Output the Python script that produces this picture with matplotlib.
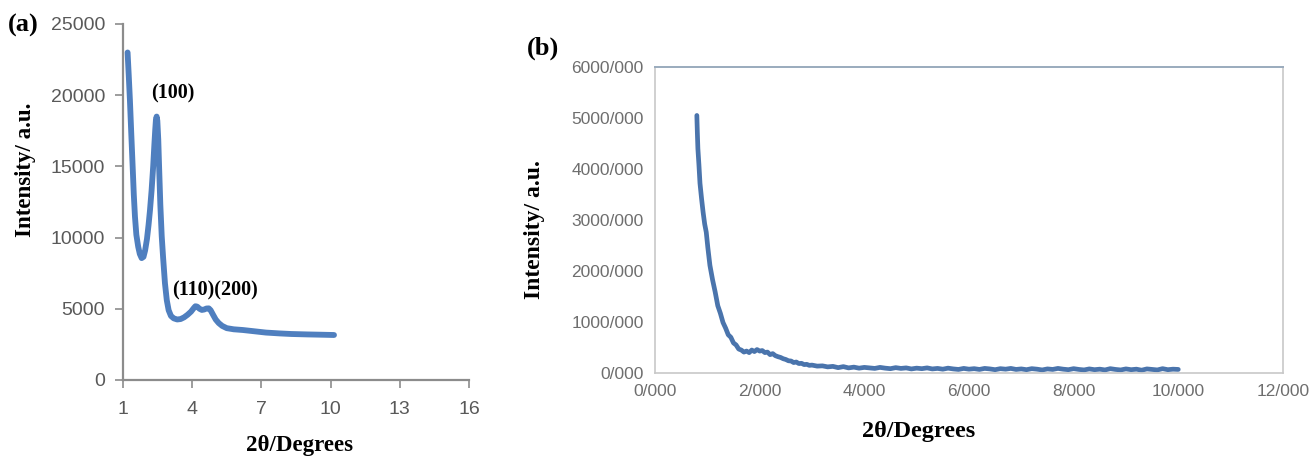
import matplotlib.pyplot as plt

# (a) low-angle XRD pattern, smooth trace
theta_a = [1.20, 1.25, 1.30, 1.36, 1.42, 1.47, 1.52, 1.58, 1.66, 1.73, 1.81, 1.89, 1.96,
           2.04, 2.11, 2.17, 2.24, 2.31, 2.36, 2.40, 2.43, 2.46, 2.49, 2.53, 2.57,
           2.62, 2.68, 2.74, 2.82, 2.90, 2.98, 3.08, 3.20, 3.35, 3.50, 3.65, 3.80,
           3.95, 4.07, 4.14, 4.22, 4.32, 4.42, 4.52, 4.62, 4.72, 4.80, 4.90, 5.02,
           5.15, 5.30, 5.50, 5.80, 6.20, 6.70, 7.20, 7.80, 8.30, 9.00, 9.60, 10.15]
inten_a = [23000, 21400, 19700, 17300, 14980, 13000, 11470, 10200, 9360, 8850, 8560,
           8650, 9100, 9900, 10900, 11900, 13300, 15000, 16500, 17600, 18300, 18500,
           18200, 16900, 14800, 12300, 10100, 8600, 6800, 5600, 4900, 4500, 4330,
           4250, 4280, 4400, 4580, 4800, 5050, 5180, 5150, 5000, 4920, 4950, 5020,
           5030, 4900, 4600, 4250, 4000, 3800, 3640, 3560, 3510, 3420, 3330, 3270,
           3230, 3200, 3180, 3160]

# (b) wide range pattern, noisy trace
theta_b = [0.80, 0.81, 0.82, 0.84, 0.86, 0.89, 0.92, 0.95, 0.98, 1.01, 1.05, 1.10,
           1.15, 1.20, 1.25, 1.30, 1.35, 1.40, 1.45, 1.50, 1.55, 1.60, 1.65, 1.70,
           1.75, 1.80, 1.85, 1.90, 1.95, 2.00, 2.05, 2.10, 2.15, 2.20, 2.25, 2.30,
           2.35, 2.40, 2.45, 2.50, 2.55, 2.60, 2.65, 2.70, 2.75, 2.80, 2.85, 2.90,
           2.95, 3.00, 3.10, 3.20, 3.30, 3.40, 3.50, 3.60, 3.70, 3.80, 3.90, 4.00,
           4.10, 4.20, 4.30, 4.40, 4.50, 4.60, 4.70, 4.80, 4.90, 5.00, 5.10, 5.20,
           5.30, 5.40, 5.50, 5.60, 5.70, 5.80, 5.90, 6.00, 6.10, 6.20, 6.30, 6.40,
           6.50, 6.60, 6.70, 6.80, 6.90, 7.00, 7.10, 7.20, 7.30, 7.40, 7.50, 7.60,
           7.70, 7.80, 7.90, 8.00, 8.10, 8.20, 8.30, 8.40, 8.50, 8.60, 8.70, 8.80,
           8.90, 9.00, 9.10, 9.20, 9.30, 9.40, 9.50, 9.60, 9.70, 9.80, 9.90, 10.00]
inten_b = [5050, 4700, 4400, 4080, 3720, 3420, 3150, 2920, 2760, 2460, 2110, 1830,
           1590, 1320, 1170, 990, 880, 750, 700, 590, 550, 470, 450, 410,
           430, 400, 450, 420, 460, 430, 440, 400, 410, 360, 380, 340,
           320, 305, 280, 265, 240, 235, 205, 215, 185, 190, 165, 170,
           150, 155, 135, 140, 120, 130, 105, 125, 100, 115, 95, 110,
           100, 90, 110, 95, 85, 105, 90, 100, 80, 95, 85, 100,
           80, 90, 75, 95, 80, 70, 90, 75, 85, 70, 90, 80,
           65, 85, 75, 90, 70, 80, 65, 85, 75, 60, 80, 70,
           90, 75, 65, 85, 70, 60, 80, 65, 75, 60, 85, 70,
           60, 80, 65, 75, 55, 80, 70, 60, 85, 65, 75, 70]

serif = "Liberation Serif"
tick_font = "Liberation Sans"

fig = plt.figure(figsize=(13.11, 4.57), dpi=100)

# ---- panel (a) ----
ax1 = fig.add_axes([0.0938, 0.1685, 0.2639, 0.779])
ax1.plot(theta_a, inten_a, color="#4f7fbf", linewidth=4.2, solid_capstyle="round",
         solid_joinstyle="round")
ax1.set_xlim(1, 16)
ax1.set_ylim(0, 25000)
ax1.set_xticks([1, 4, 7, 10, 13, 16])
ax1.set_yticks([0, 5000, 10000, 15000, 20000, 25000])
for side in ["top", "right"]:
    ax1.spines[side].set_visible(False)
for side in ["left", "bottom"]:
    ax1.spines[side].set_color("#8c8c8c")
    ax1.spines[side].set_linewidth(1.6)
ax1.tick_params(direction="out", length=6, width=1.2, color="#8c8c8c",
                labelcolor="#595959", labelsize=14, pad=7)
ax1.tick_params(axis="x", pad=9)
for lbl in ax1.get_xticklabels() + ax1.get_yticklabels():
    lbl.set_fontfamily(tick_font)
ax1.set_xlabel("2θ/Degrees", fontfamily=serif, fontweight="bold", fontsize=16.5,
               va="center")
ax1.xaxis.set_label_coords(0.51, -0.183)
ax1.set_ylabel("Intensity/ a.u.", fontfamily=serif, fontweight="bold", fontsize=16.5)
ax1.yaxis.set_label_coords(-0.25, 0.59)
ax1.text(3.15, 20100, "(100)", fontfamily=serif, fontweight="bold", fontsize=14.5,
         ha="center", va="center")
ax1.text(5.0, 6300, "(110)(200)", fontfamily=serif, fontweight="bold", fontsize=14.5,
         ha="center", va="center")
fig.text(0.006, 0.93, "(a)", fontfamily=serif, fontweight="bold", fontsize=19)

# ---- panel (b) ----
ax2 = fig.add_axes([0.4996, 0.1838, 0.479, 0.6696])
ax2.plot(theta_b, inten_b, color="#4a74ac", linewidth=3.4, solid_joinstyle="round",
         solid_capstyle="round")
ax2.set_xlim(0, 12)
ax2.set_ylim(0, 6000)
ax2.set_xticks(range(0, 13, 2))
ax2.set_yticks(range(0, 6001, 1000))
ax2.set_xticklabels([f"{v}/000" for v in range(0, 13, 2)])
ax2.set_yticklabels([f"{v}/000" for v in range(0, 6001, 1000)])
for side in ["left", "bottom", "right"]:
    ax2.spines[side].set_color("#c8c8c8")
    ax2.spines[side].set_linewidth(1.2)
ax2.spines["top"].set_color("#9aabbd")
ax2.spines["top"].set_linewidth(1.4)
ax2.tick_params(length=0, labelcolor="#6e6e6e", labelsize=12.5, pad=8)
for lbl in ax2.get_xticklabels() + ax2.get_yticklabels():
    lbl.set_fontfamily(tick_font)
ax2.set_xlabel("2θ/Degrees", fontfamily=serif, fontweight="bold", fontsize=17.5,
               va="center")
ax2.xaxis.set_label_coords(0.42, -0.19)
ax2.set_ylabel("Intensity/ a.u.", fontfamily=serif, fontweight="bold", fontsize=17)
ax2.yaxis.set_label_coords(-0.175, 0.47)
fig.text(0.402, 0.88, "(b)", fontfamily=serif, fontweight="bold", fontsize=19)

fig.savefig("out.png", dpi=100)
